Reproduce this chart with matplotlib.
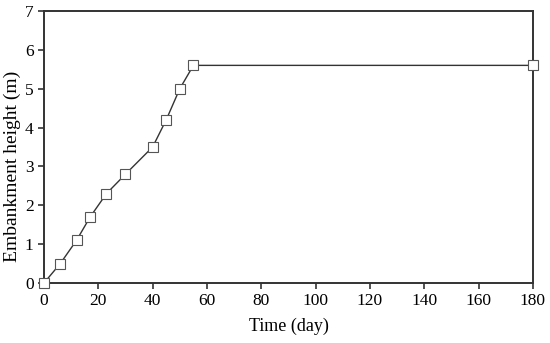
import matplotlib
matplotlib.use("Agg")
import matplotlib.pyplot as plt

time_day = [0, 6, 12, 17, 23, 30, 40, 45, 50, 55, 180]
height_m = [0, 0.5, 1.1, 1.7, 2.3, 2.8, 3.5, 4.2, 5.0, 5.6, 5.6]
xticks = [0, 20, 40, 60, 80, 100, 120, 140, 160, 180]
yticks = [0, 1, 2, 3, 4, 5, 6, 7]

plt.rcParams['font.family'] = ['Liberation Serif', 'DejaVu Serif']

fig = plt.figure(figsize=(5.5, 3.43), dpi=100)
ax = fig.add_axes([0.08, 0.175, 0.889, 0.793])
ax.plot(time_day, height_m, color='#333333', lw=1.0, marker='s', ms=6.5,
        mfc='white', mec='#555555', mew=0.8, clip_on=False, zorder=3)
ax.set_xlim(0, 180)
ax.set_ylim(0, 7)
ax.set_xticks(xticks)
ax.set_yticks(yticks)
ax.tick_params(direction='out', length=4, width=1.2, labelsize=12.5, color='#333333')
for s in ax.spines.values():
    s.set_linewidth(1.4)
    s.set_color('#333333')
ax.set_xlabel('Time (day)', fontsize=13, labelpad=6)
ax.set_ylabel('Embankment height (m)', fontsize=14)
ax.yaxis.set_label_coords(-0.047, 0.43)
fig.savefig('out.png', dpi=100)
